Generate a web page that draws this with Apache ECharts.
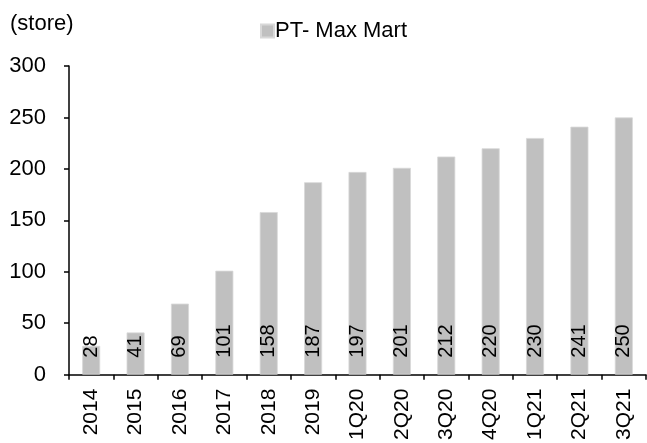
<!DOCTYPE html>
<html>
<head>
<meta charset="utf-8">
<script src="https://cdn.jsdelivr.net/npm/echarts@6/dist/echarts.min.js"></script>
<style>
  html, body { margin: 0; padding: 0; background: #fff; }
  #chart { width: 647px; height: 443px; }
</style>
</head>
<body>
<div id="chart"></div>
<script>
// Store count by period
const categories = ['2014', '2015', '2016', '2017', '2018', '2019', '1Q20', '2Q20', '3Q20', '4Q20', '1Q21', '2Q21', '3Q21'];
const storeCounts = [28, 41, 69, 101, 158, 187, 197, 201, 212, 220, 230, 241, 250];
const seriesName = 'PT- Max Mart';
const unitLabel = '(store)';

const FONT = '"Liberation Sans", Arial, sans-serif';
const chart = echarts.init(document.getElementById('chart'), null, { renderer: 'canvas' });

chart.setOption({
  animation: false,
  backgroundColor: '#fff',
  textStyle: { fontFamily: FONT, color: '#000' },
  title: {
    text: unitLabel,
    left: 5,
    top: 8,
    textStyle: { fontFamily: FONT, fontSize: 22, fontWeight: 'normal', color: '#000' }
  },
  legend: {
    data: [seriesName],
    left: 255,
    top: 15,
    itemWidth: 13,
    itemHeight: 13,
    itemGap: 4,
    icon: 'rect',
    textStyle: { fontFamily: FONT, fontSize: 22, color: '#000', padding: [0, 0, 0, -4] }
  },
  grid: { left: 69, right: 1, top: 66, bottom: 66, containLabel: false },
  xAxis: {
    type: 'category',
    data: categories,
    boundaryGap: true,
    axisLine: { lineStyle: { color: '#000', width: 1.5 } },
    axisTick: { show: true, alignWithLabel: false, length: 5, lineStyle: { color: '#000', width: 1.5 } },
    axisLabel: {
      rotate: 90,
      margin: 14,
      fontFamily: FONT,
      fontSize: 21,
      color: '#000',
      interval: 0
    }
  },
  yAxis: {
    type: 'value',
    min: 0,
    max: 300,
    interval: 50,
    splitLine: { show: false },
    axisLine: { show: true, lineStyle: { color: '#000', width: 1.5 } },
    axisTick: { show: true, length: 5, lineStyle: { color: '#000', width: 1.5 } },
    axisLabel: { margin: 23, fontFamily: FONT, fontSize: 22, color: '#000' }
  },
  series: [{
    name: seriesName,
    type: 'bar',
    data: storeCounts,
    barWidth: 18,
    itemStyle: { color: '#c0c0c0', borderColor: '#d8d8d8', borderWidth: 0.8 },
    label: {
      show: true,
      position: 'insideBottom',
      distance: 17,
      rotate: 90,
      align: 'left',
      verticalAlign: 'middle',
      fontFamily: FONT,
      fontSize: 20,
      color: '#000'
    }
  }]
});
</script>
</body>
</html>
